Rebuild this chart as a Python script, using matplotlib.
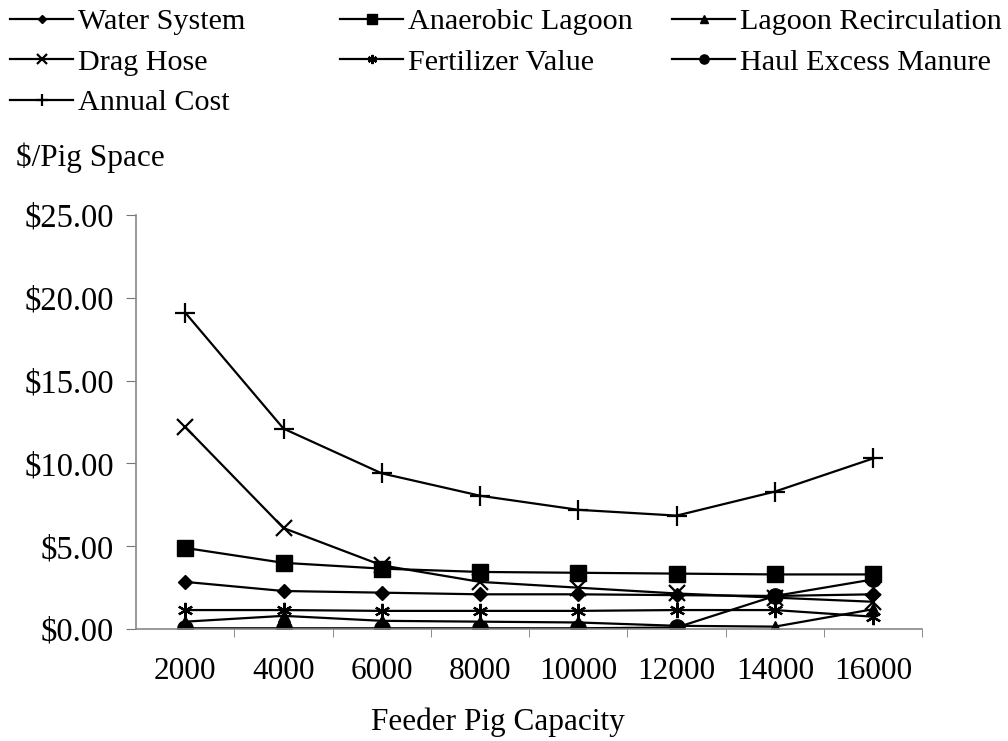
import matplotlib
matplotlib.use('Agg')
import matplotlib.pyplot as plt
from matplotlib.ticker import FuncFormatter, FixedLocator

plt.rcParams['font.family'] = ['Liberation Serif', 'DejaVu Serif']

capacity = ['2000', '4000', '6000', '8000', '10000', '12000', '14000', '16000']
water_system = [2.85, 2.3, 2.2, 2.1, 2.1, 2.05, 2.0, 2.1]
anaerobic_lagoon = [4.9, 4.0, 3.65, 3.45, 3.4, 3.35, 3.3, 3.3]
lagoon_recirc = [0.45, 0.8, 0.5, 0.45, 0.4, 0.2, 0.15, 1.2]
drag_hose = [12.2, 6.1, 3.85, 2.85, 2.5, 2.15, 1.9, 1.65]
fertilizer = [1.15, 1.15, 1.1, 1.1, 1.1, 1.15, 1.15, 0.75]
haul_manure = [0.05, 0.05, 0.05, 0.05, 0.05, 0.1, 2.0, 3.0]
annual_cost = [19.1, 12.1, 9.4, 8.05, 7.2, 6.85, 8.3, 10.3]

x = list(range(len(capacity)))

fig = plt.figure(figsize=(10.08, 7.41), dpi=100)
ax = fig.add_axes([0.135, 0.151, 0.78, 0.559])

lw = 1.6
h_water, = ax.plot(x, water_system, color='black', lw=lw, marker='D', ms=7)
h_lagoon, = ax.plot(x, anaerobic_lagoon, color='black', lw=lw, marker='s', ms=11)
h_recirc, = ax.plot(x, lagoon_recirc, color='black', lw=lw, marker='^', ms=9)
h_drag, = ax.plot(x, drag_hose, color='black', lw=lw, marker='x', ms=11, mew=1.6)
h_fert, = ax.plot(x, fertilizer, color='black', lw=lw, marker=(6, 2, 0), ms=11, mew=1.6)
h_haul, = ax.plot(x, haul_manure, color='black', lw=lw, marker='o', ms=11)
h_annual, = ax.plot(x, annual_cost, color='black', lw=lw, marker='+', ms=14, mew=1.6)

ax.set_xlim(-0.5, 7.5)
ax.set_ylim(0, 25)
ax.set_yticks([0, 5, 10, 15, 20, 25])
ax.yaxis.set_major_formatter(FuncFormatter(lambda v, p: '\\$%.2f' % v))
ax.set_xticks(x)
ax.set_xticklabels(capacity)
ax.xaxis.set_minor_locator(FixedLocator([i + 0.5 for i in range(8)]))
ax.tick_params(axis='x', which='major', length=0, labelsize=22.5, pad=20)
ax.tick_params(axis='x', which='minor', length=6, direction='out', color='#777777')
ax.tick_params(axis='y', length=7, direction='out', labelsize=23.5, pad=9, color='#777777')

for s in ['top', 'right']:
    ax.spines[s].set_visible(False)
for s in ['left', 'bottom']:
    ax.spines[s].set_color('#888888')
    ax.spines[s].set_linewidth(1.2)

fig.text(498 / 1008, 1 - 722 / 741, 'Feeder Pig Capacity', fontsize=22.5, ha='center', va='center')
fig.text(0.016, 1 - 158 / 741, '\\$/Pig Space', fontsize=22.5, va='center', ha='left')

cols = [
    ([h_water, h_drag, h_annual], ['Water System', 'Drag Hose', 'Annual Cost'], 10),
    ([h_lagoon, h_fert], ['Anaerobic Lagoon', 'Fertilizer Value'], 340),
    ([h_recirc, h_haul], ['Lagoon Recirculation', 'Haul Excess Manure'], 672),
]
for hs, labs, px in cols:
    fig.legend(hs, labs, loc='upper left', bbox_to_anchor=(px / 1008, 1 - 8 / 741),
               frameon=False, fontsize=21.7, handlelength=2.1, handletextpad=0.15,
               labelspacing=0.45, borderpad=0, borderaxespad=0, markerscale=0.6)

fig.savefig('out.png', dpi=100)
